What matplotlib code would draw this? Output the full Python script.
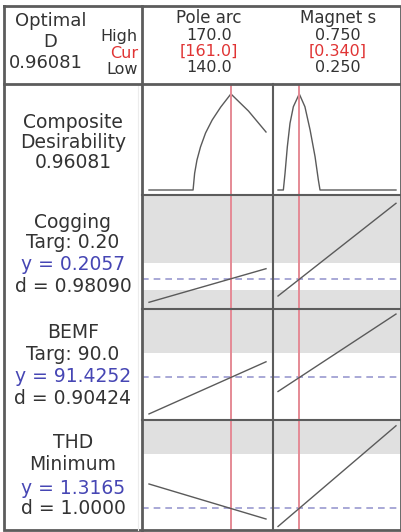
import matplotlib
matplotlib.use("Agg")
import matplotlib.pyplot as plt
import numpy as np

# ---------------- data ----------------
factors = ["Pole arc", "Magnet s"]
high = ["170.0", "0.750"]
cur = ["[161.0]", "[0.340]"]
low = ["140.0", "0.250"]
low_vals = [140.0, 0.250]
high_vals = [170.0, 0.750]
cur_vals = [161.0, 0.340]

optimal_d = "0.96081"

# composite desirability curves
comp_pole_x = [140, 151.3, 151.7, 152.3, 153.2, 154.5, 156.2, 158.4, 161.0, 165.5, 170]
comp_pole_d = [0, 0, 0.167, 0.30, 0.43, 0.57, 0.70, 0.83, 0.96081, 0.79, 0.58]
comp_mag_x = [0.25, 0.2726, 0.2797, 0.2895, 0.3008, 0.315, 0.340, 0.364, 0.386, 0.407, 0.421, 0.428, 0.75]
comp_mag_d = [0, 0, 0.167, 0.433, 0.667, 0.833, 0.96081, 0.833, 0.60, 0.333, 0.10, 0, 0]

responses = ["Cogging", "BEMF", "THD"]
goals = ["Targ: 0.20", "Targ: 90.0", "Minimum"]
y_text = ["y = 0.2057", "y = 91.4252", "y = 1.3165"]
d_text = ["d = 0.98090", "d = 0.90424", "d = 1.0000"]
y_pred = [0.2057, 91.4252, 1.3165]

# predicted response at low/high of each factor (others at current)
cog_pole = [0.1827, 0.2163]
cog_mag = [0.1890, 0.2817]
bemf_pole = [70.7, 100.2]
bemf_mag = [83.4, 127.2]
thd_pole = [2.076, 0.982]
thd_mag = [0.748, 3.895]

# white (acceptable) band per response
bands = [(0.195, 0.222), (-1e9, 105.0), (-1e9, 3.0)]
# y-limits of each row
ylims = [(0.176, 0.290), (67.27, 130.06), (0.638, 4.076)]

# ---------------- layout ----------------
W, H = 402, 532
fig = plt.figure(figsize=(W / 100, H / 100), dpi=100)
fig.patch.set_facecolor("white")

def fx(x):
    return x / W

def fy(y):
    return 1 - y / H

def px_axes(x0, y0, x1, y1):
    ax = fig.add_axes([fx(x0), fy(y1), fx(x1) - fx(x0), fy(y0) - fy(y1)])
    ax.set_xticks([])
    ax.set_yticks([])
    for s in ax.spines.values():
        s.set_visible(False)
    ax.patch.set_alpha(0)
    return ax

col_x = [(142, 273), (273, 401)]
row_y = [(84, 195), (195, 309), (309, 420), (420, 530)]

def xlim_for(i):
    lo, hi = low_vals[i], high_vals[i]
    span = hi - lo
    if i == 0:
        pad = span * 7 / 117
    else:
        pad = span * 5 / 117.5
    return (lo - pad, hi + pad)

line_c = "#5a5a5a"
red_c = "#e58a95"
dash_c = "#9a9ad0"
gray_c = "#e0e0e0"
txt_c = "#333333"
blue_c = "#4646b4"
red_t = "#e03434"

resp_data = [(cog_pole, cog_mag), (bemf_pole, bemf_mag), (thd_pole, thd_mag)]

for r in range(4):
    for c in range(2):
        x0, x1 = col_x[c]
        y0, y1 = row_y[r]
        ax = px_axes(x0, y0, x1, y1)
        ax.set_xlim(*xlim_for(c))
        if r == 0:
            ax.set_ylim(-0.05, 1.06)
            if c == 0:
                ax.plot(comp_pole_x, comp_pole_d, color=line_c, lw=1.0)
            else:
                ax.plot(comp_mag_x, comp_mag_d, color=line_c, lw=1.0)
        else:
            k = r - 1
            ax.set_ylim(*ylims[k])
            lo_b, hi_b = bands[k]
            yl = ylims[k]
            ax.axhspan(yl[0] - 1, yl[1] + 1, color=gray_c, lw=0, zorder=0)
            ax.axhspan(max(lo_b, yl[0] - 1), hi_b, color="white", lw=0, zorder=0.5)
            vals = resp_data[k][c]
            ax.plot([low_vals[c], high_vals[c]], vals, color=line_c, lw=1.0, zorder=3)
            ax.axhline(y_pred[k], color=dash_c, lw=1.2, ls=(0, (4, 3)), zorder=2)
        ax.axvline(cur_vals[c], color=red_c, lw=1.4, zorder=2.5)

# ---------------- borders ----------------
bax = px_axes(0, 0, W, H)
bax.set_xlim(0, W)
bax.set_ylim(H, 0)
bc = "#5c5c5c"
bax.plot([4, 401, 401, 4, 4], [6, 6, 530, 530, 6], color=bc, lw=2.0, solid_joinstyle="miter")
bax.plot([142, 142], [6, 530], color=bc, lw=2.0)
bax.plot([138.5, 138.5], [84, 530], color="#ececec", lw=0.8)
bax.plot([4, 401], [84, 84], color=bc, lw=2.0)
for yy in [195, 309, 420]:
    bax.plot([142, 401], [yy, yy], color=bc, lw=1.5)
bax.plot([273, 273], [84, 530], color=bc, lw=1.5)

# ---------------- texts ----------------
fs = 13.5
hfs = 11.5
def T(x, y, s, color=txt_c, ha="center", size=fs):
    bax.text(x, y, s, color=color, ha=ha, va="center", fontsize=size,
             family="DejaVu Sans")

T(51, 21, "Optimal", size=13)
T(50, 42, "D", size=13)
T(46, 63, optimal_d, size=13)
T(138, 37, "High", ha="right", size=hfs)
T(138, 53.5, "Cur", color=red_t, ha="right", size=hfs)
T(138, 70, "Low", ha="right", size=hfs)

col_cx = [209, 338]
for i in range(2):
    T(col_cx[i], 18, factors[i], size=12)
    T(col_cx[i], 35, high[i], size=hfs)
    T(col_cx[i], 51.5, cur[i], color=red_t, size=hfs)
    T(col_cx[i], 68, low[i], size=hfs)

lx = 73
T(lx, 122, "Composite")
T(lx, 143, "Desirability")
T(lx, 163, optimal_d)

row_text_y = [(222, 243, 265, 287), (333, 355, 377, 398), (443, 465, 488, 509)]
for k in range(3):
    ya, yb, yc, yd = row_text_y[k]
    T(lx, ya, responses[k])
    T(lx, yb, goals[k])
    T(lx, yc, y_text[k], color=blue_c)
    T(lx, yd, d_text[k])

fig.savefig("out.png", dpi=100, facecolor="white")
